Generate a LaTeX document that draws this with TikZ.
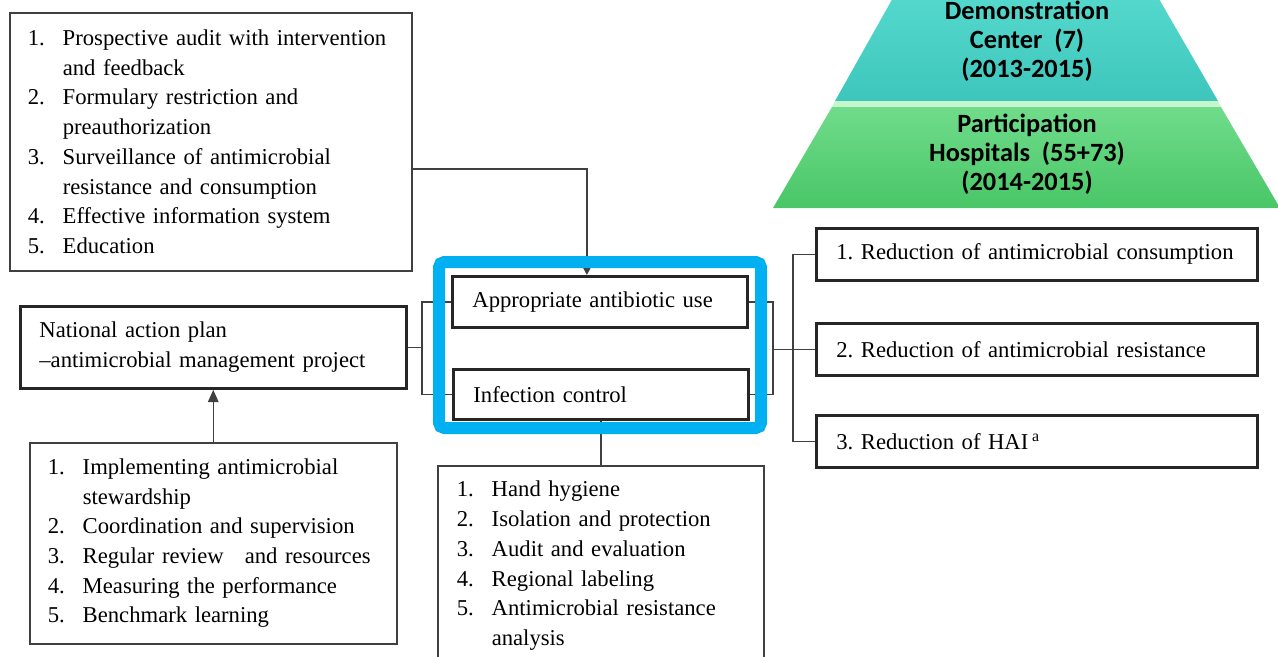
\documentclass[tikz,border=0pt]{standalone}
\usepackage{fontspec}
\setmainfont{Liberation Serif}
\newfontfamily\pyrfont{Carlito}
\usetikzlibrary{arrows.meta}
\definecolor{focusblue}{HTML}{00B0F0}
\definecolor{tealtop}{HTML}{58DBCF}
\definecolor{tealbot}{HTML}{3EC6BC}
\definecolor{greentop}{HTML}{70DC8B}
\definecolor{greenbot}{HTML}{49C667}
\definecolor{bevel}{HTML}{C6F6CC}
\newcommand{\numb}[1]{\makebox[19.9pt][l]{#1}}

\begin{document}
\begin{tikzpicture}[x=0.02cm,y=-0.02cm,
    box/.style={draw=black!75,line width=0.9pt,anchor=north west,align=left,
      inner xsep=0.36cm,inner ysep=0pt,font=\fontsize{12.9}{16.9}\selectfont,
      execute at begin node={\frenchspacing\hyphenpenalty=10000\exhyphenpenalty=10000}},
    thickbox/.style={box,draw=black!85,line width=1.6pt,inner xsep=0.4cm},
    link/.style={draw=black!75,line width=0.85pt},
    level/.style={font=\pyrfont\bfseries\fontsize{15}{16.5}\selectfont,align=center}]
  \useasboundingbox (0,0) rectangle (1278,656);
  \clip (0,0) rectangle (1278,656);

  % pyramid
  \shade [top color=tealtop,bottom color=tealbot] (903,-20)--(1148,-20)--(1218,101)--(835,101)--cycle;
  \fill [bevel] (835,101)--(1218,101)--(1221,107)--(832,107)--cycle;
  \shade [top color=greentop,bottom color=greenbot] (832,107)--(1221,107)--(1280,208)--(773,208)--cycle;
  \node [level] (demo) at (1027,41) {Demonstration\\Center\ \ (7)\\(2013-2015)};
  \node [level] (part) at (1027,154) {Participation\\Hospitals\ \ (55+73)\\(2014-2015)};

  % boxes
  \node [box,text width=7.32cm,minimum height=5.16cm] (strat) at (9,12)
    {\numb{1.}Prospective audit with intervention\\ \numb{}and feedback\\
     \numb{2.}Formulary restriction and\\ \numb{}preauthorization\\
     \numb{3.}Surveillance of antimicrobial\\ \numb{}resistance and consumption\\
     \numb{4.}Effective information system\\ \numb{5.}Education};
  \node [thickbox,inner xsep=0.38cm,text width=6.96cm,minimum height=1.64cm] (nap) at (19,305)
    {National action plan\\--antimicrobial management project};
  \node [box,text width=6.62cm,minimum height=4.02cm] (impl) at (29,442)
    {\numb{1.}Implementing antimicrobial\\ \numb{}stewardship\\
     \numb{2.}Coordination and supervision\\
     \numb{3.}Regular review\hspace{12pt}and resources\\
     \numb{4.}Measuring the performance\\ \numb{5.}Benchmark learning};
  \node [thickbox,text width=5.1cm,minimum height=1.02cm] (aau) at (451,275) {Appropriate antibiotic use};
  \node [thickbox,text width=5.1cm,minimum height=1.0cm] (ic) at (452,368) {Infection control};
  \node [box,inner xsep=0.38cm,text width=5.76cm,minimum height=4.0cm] (infc) at (437,465)
    {\numb{1.}Hand hygiene\\ \numb{2.}Isolation and protection\\
     \numb{3.}Audit and evaluation\\ \numb{4.}Regional labeling\\
     \numb{5.}Antimicrobial resistance\\ \numb{}analysis};
  \node [thickbox,text width=8.02cm,minimum height=1.04cm] (r1) at (815,227) {1. Reduction of antimicrobial consumption};
  \node [thickbox,text width=8.02cm,minimum height=1.04cm] (r2) at (815,322) {2. Reduction of antimicrobial resistance};
  \node [thickbox,text width=8.02cm,minimum height=1.04cm] (r3) at (815,414) {3. Reduction of HAI\,\textsuperscript{a}};

  % connectors
  \coordinate (lb) at (422,346);
  \coordinate (rb) at (773,348);
  \coordinate (rr) at (793,348);
  \draw [link,-{Triangle[length=4pt,width=4pt]}] ([yshift=-0.54cm]strat.east) -| ([xshift=-0.26cm]aau.north);
  \draw [link] (nap.east) -- (nap.east -| lb);
  \draw [link] (aau.west) -| (lb) |- (ic.west);
  \draw [link] (aau.east) -| (rb) |- (ic.east);
  \draw [link] (rb |- r2.west) -- (r2.west);
  \draw [link] (r1.west) -| (rr) |- (r3.west);
  \draw [link] (ic.south) -- (ic.south |- infc.north);
  \draw [link,-{Triangle[length=7pt,width=6pt]}] (impl.north) -- (impl.north |- nap.south);

  % highlight
  \draw [focusblue,line width=0.24cm,rounded corners=3pt] (439,262) rectangle (761,428);
\end{tikzpicture}
\end{document}
